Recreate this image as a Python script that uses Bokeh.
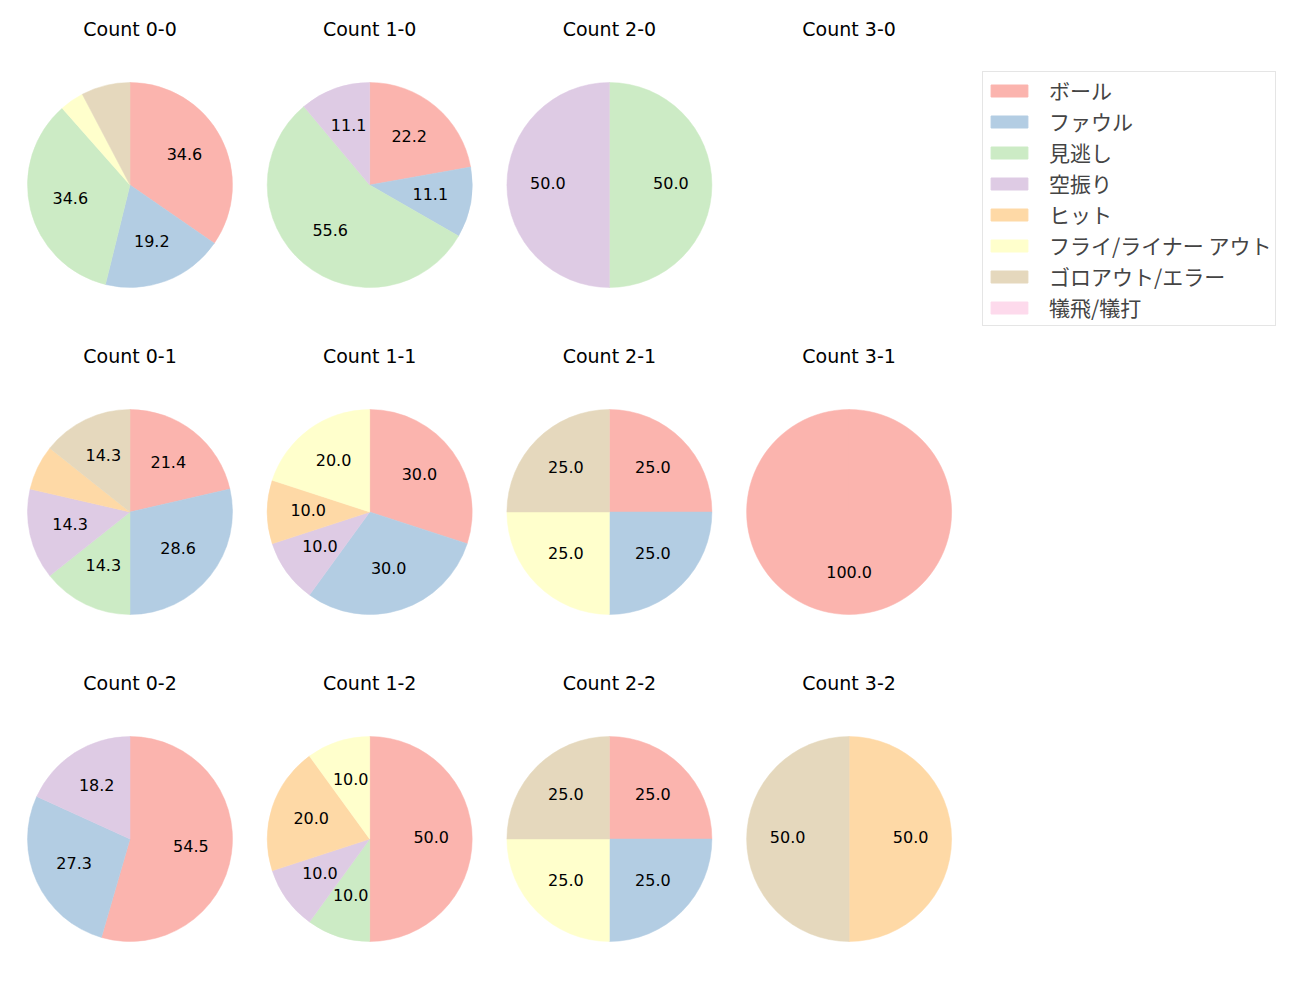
import math
from bokeh.plotting import figure
from bokeh.models import Legend, LegendItem, ColumnDataSource
from bokeh.core.properties import value
from bokeh.embed import file_html
from bokeh.resources import INLINE

# ---- data ----
categories = ["ボール", "ファウル", "見逃し", "空振り", "ヒット",
              "フライ/ライナー アウト", "ゴロアウト/エラー", "犠飛/犠打"]
colors = ["#fbb4ae", "#b3cde3", "#ccebc5", "#decbe4", "#fed9a6",
          "#ffffcc", "#e5d8bd", "#fddaec"]

count_labels = ["0-0", "1-0", "2-0", "3-0",
                "0-1", "1-1", "2-1", "3-1",
                "0-2", "1-2", "2-2", "3-2"]

# percentages per count, in category order
pct_0_0 = [34.6, 19.2, 34.6, 0, 0, 3.8, 7.7, 0]
pct_1_0 = [22.2, 11.1, 55.6, 11.1, 0, 0, 0, 0]
pct_2_0 = [0, 0, 50.0, 50.0, 0, 0, 0, 0]
pct_3_0 = [0, 0, 0, 0, 0, 0, 0, 0]
pct_0_1 = [21.4, 28.6, 14.3, 14.3, 7.1, 0, 14.3, 0]
pct_1_1 = [30.0, 30.0, 0, 10.0, 10.0, 20.0, 0, 0]
pct_2_1 = [25.0, 25.0, 0, 0, 0, 25.0, 25.0, 0]
pct_3_1 = [100.0, 0, 0, 0, 0, 0, 0, 0]
pct_0_2 = [54.5, 27.3, 0, 18.2, 0, 0, 0, 0]
pct_1_2 = [50.0, 0, 10.0, 10.0, 20.0, 10.0, 0, 0]
pct_2_2 = [25.0, 25.0, 0, 0, 0, 25.0, 25.0, 0]
pct_3_2 = [0, 0, 0, 0, 50.0, 0, 50.0, 0]

all_pcts = [pct_0_0, pct_1_0, pct_2_0, pct_3_0,
            pct_0_1, pct_1_1, pct_2_1, pct_3_1,
            pct_0_2, pct_1_2, pct_2_2, pct_3_2]

# ---- layout constants ----
W, H = 1292, 992
X0, DX = 129.5, 239.7
Y0, DY = 807.5, 327.0
R = 102.5
TITLE_OFF = 156.5
LABEL_FONT = value("DejaVu Sans")
LEGEND_FONT = "Noto Sans CJK JP"

p = figure(width=W, height=H, x_range=(0, W), y_range=(0, H),
           output_backend="svg", toolbar_location=None, min_border=0)
p.axis.visible = False
p.xgrid.visible = False
p.ygrid.visible = False
p.outline_line_color = None

wx, wy, ws, we, wc = [], [], [], [], []
lx, ly, lt = [], [], []
tx, ty, tt = [], [], []

for i, (lab, pcts) in enumerate(zip(count_labels, all_pcts)):
    col, row = i % 4, i // 4
    cx = X0 + col * DX
    cy = Y0 - row * DY
    tx.append(cx)
    ty.append(cy + TITLE_OFF)
    tt.append("Count " + lab)
    total = sum(pcts)
    if total <= 0:
        continue
    cum = 0.0
    for k, v in enumerate(pcts):
        if v <= 0:
            continue
        a0 = math.pi / 2 - 2 * math.pi * cum / total
        cum += v
        a1 = math.pi / 2 - 2 * math.pi * cum / total
        if v >= total:
            a1 = a0 - 2 * math.pi + 1e-6
        wx.append(cx); wy.append(cy); ws.append(a0); we.append(a1); wc.append(colors[k])
        if v / total * 100 >= 9.5:
            mid = (a0 + a1) / 2
            lx.append(cx + 0.6 * R * math.cos(mid))
            ly.append(cy + 0.6 * R * math.sin(mid) + 2)
            lt.append(f"{v / total * 100:.1f}")

p.wedge(x=wx, y=wy, radius=R, radius_units="screen", start_angle=ws, end_angle=we,
        direction="clock", fill_color=wc, line_color=wc, line_width=0.5)
p.text(x=lx, y=ly, text=lt, text_align="center", text_baseline="middle",
       text_font=LABEL_FONT, text_font_size="16px", text_color="#000000")
p.text(x=tx, y=ty, text=tt, text_align="center", text_baseline="middle",
       text_font=LABEL_FONT, text_font_size="19px", text_color="#000000")

# legend: one (NaN, never drawn) quad per category, used only as legend swatch
nan = float("nan")
n = len(categories)
leg_src = ColumnDataSource(dict(left=[nan] * n, right=[nan] * n,
                                top=[nan] * n, bottom=[nan] * n,
                                color=colors, label=categories))
qr = p.quad(left="left", right="right", top="top", bottom="bottom", source=leg_src,
            fill_color="color", line_color="color")
items = [LegendItem(label=name, renderers=[qr], index=k) for k, name in enumerate(categories)]
legend = Legend(items=items, location=(982, 666), glyph_width=46, glyph_height=15,
                label_standoff=17, padding=3, spacing=1, label_height=20,
                label_text_font=LEGEND_FONT, label_text_font_size="21px",
                label_text_baseline="middle",
                border_line_color="#cccccc", border_line_width=1,
                background_fill_alpha=1.0, margin=0)
p.add_layout(legend)

open("out.html", "w").write(file_html(p, INLINE))
